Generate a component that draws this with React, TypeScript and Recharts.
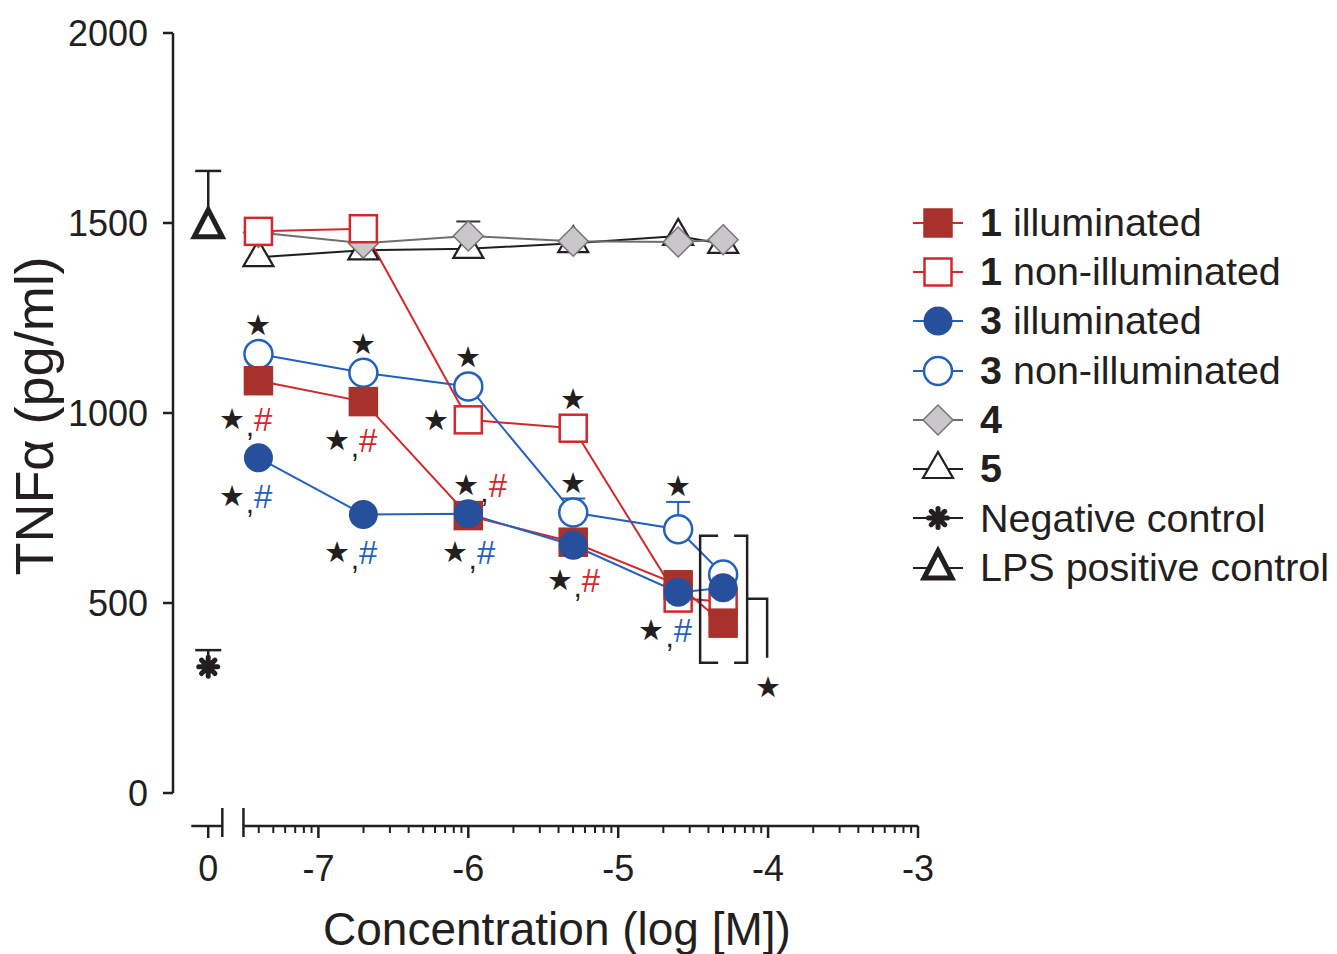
import React from 'react';
import { ComposedChart, Line, Scatter, XAxis, YAxis, ErrorBar, ReferenceLine, Legend } from 'recharts';

// log10 of the molar concentrations
const concLog = [-7.4, -6.7, -6, -5.3, -4.6, -4.3];

const cpd1Light = [1085, 1030, 730, 660, 548, 447];
const cpd1Dark = [1478, 1485, 982, 960, 513, 503];
const cpd3Light = [882, 733, 735, 652, 528, 540];
const cpd3Dark = [1155, 1106, 1070, 738, 694, 575];
const cpd3DarkSd = [0, 0, 0, 37, 72, 0];
const cpd4 = [1475, 1447, 1466, 1452, 1450, 1456];
const cpd4Sd = [0, 0, 38, 0, 0, 0];
const cpd5 = [1410, 1428, 1432, 1447, 1466, 1445];

// controls sit at concentration 0 (own axis segment)
const ctrlNames = ['Negative control', 'LPS positive control'];
const ctrlMeans = [332, 1490];
const ctrlSd = [44, 147];

const yTicks = [0, 500, 1000, 1500, 2000];
const majorTicks = [-7, -6, -5, -4, -3];

// significance marks: [series, concentration index, placement]
const starMarks: [string, number, string][] = [
  ['cpd3Dark', 0, 'above'],
  ['cpd3Dark', 1, 'above'],
  ['cpd3Dark', 2, 'above'],
  ['cpd3Dark', 3, 'above'],
  ['cpd3Dark', 4, 'above'],
  ['cpd1Dark', 2, 'left'],
  ['cpd1Dark', 3, 'above'],
];
const hashMarks: [string, number, string][] = [
  ['cpd1Light', 0, 'below'],
  ['cpd1Light', 1, 'below'],
  ['cpd1Light', 2, 'aboveRight'],
  ['cpd1Light', 3, 'belowRight'],
  ['cpd3Light', 0, 'below'],
  ['cpd3Light', 1, 'below'],
  ['cpd3Light', 2, 'belowRight'],
  ['cpd3Light', 4, 'below'],
];

const FONT = "'Liberation Sans', Arial, Helvetica, sans-serif";
const INK = '#231f20';
const RED = '#d2282c';
const RED_FILL = '#a8322b';
const BLUE = '#2361bd';
const BLUE_FILL = '#264f9c';
const GREY_LINE = '#6e6e6e';
const GREY_FILL = '#c9c7c9';

// axis layout (log units)
const X_MIN = -7.97;
const X_MAX = -3;
const CONTROL_POS = -7.735;
const CTRL_SEG = [-7.848, -7.641];
const MAIN_START = -7.5;
const Y_MIN = -86.8;
const Y_MAX = 2000;

const minorTicks: number[] = [];
for (let d = -8; d <= -4; d++) {
  for (let m = 2; m <= 9; m++) {
    const v = d + Math.log10(m);
    if (v > MAIN_START && v < X_MAX) minorTicks.push(v);
  }
}
const xTicks = [CONTROL_POS, CTRL_SEG[1], MAIN_START, ...majorTicks, ...minorTicks].sort((a, b) => a - b);

const near = (a: number, b: number) => Math.abs(a - b) < 1e-6;

type MarkerKind =
  | 'squareFilled'
  | 'squareOpen'
  | 'circleFilled'
  | 'circleOpen'
  | 'diamond'
  | 'triangle'
  | 'triangleBold'
  | 'asterisk';

function Marker({ kind, cx, cy }: { kind: MarkerKind; cx: number; cy: number }) {
  switch (kind) {
    case 'squareFilled':
      return <rect x={cx - 14} y={cy - 14} width={28} height={28} fill={RED_FILL} stroke={RED_FILL} strokeWidth={1.5} />;
    case 'squareOpen':
      return <rect x={cx - 13.5} y={cy - 13.5} width={27} height={27} fill="#fff" stroke={RED} strokeWidth={2.5} />;
    case 'circleFilled':
      return <circle cx={cx} cy={cy} r={14.5} fill={BLUE_FILL} />;
    case 'circleOpen':
      return <circle cx={cx} cy={cy} r={14} fill="#fff" stroke={BLUE} strokeWidth={2.5} />;
    case 'diamond':
      return (
        <path
          d={`M${cx},${cy - 15}L${cx + 15},${cy}L${cx},${cy + 15}L${cx - 15},${cy}Z`}
          fill={GREY_FILL}
          stroke="#777"
          strokeWidth={1.5}
        />
      );
    case 'triangle':
      return (
        <path
          d={`M${cx},${cy - 17}L${cx + 15},${cy + 9}L${cx - 15},${cy + 9}Z`}
          fill="#fff"
          stroke={INK}
          strokeWidth={2.2}
        />
      );
    case 'triangleBold':
      return (
        <path
          d={`M${cx},${cy - 17}L${cx + 14},${cy + 10}L${cx - 14},${cy + 10}Z`}
          fill="#fff"
          stroke={INK}
          strokeWidth={5}
        />
      );
    case 'asterisk':
    default:
      return (
        <g>
          {[0, 45, 90, 135].map((a) => {
            const dx = 9.5 * Math.cos((a * Math.PI) / 180);
            const dy = 9.5 * Math.sin((a * Math.PI) / 180);
            return (
              <line key={a} x1={cx - dx} y1={cy - dy} x2={cx + dx} y2={cy + dy} stroke={INK} strokeWidth={5} strokeLinecap="round" />
            );
          })}
          <circle cx={cx} cy={cy} r={6.5} fill={INK} />
        </g>
      );
  }
}

interface SeriesDef {
  id: string;
  values: number[];
  sd?: number[];
  stroke: string;
  barStroke?: string;
  marker: MarkerKind;
}

// drawing order, bottom to top
const seriesDefs: SeriesDef[] = [
  { id: 'cpd5', values: cpd5, stroke: INK, marker: 'triangle' },
  { id: 'cpd4', values: cpd4, sd: cpd4Sd, stroke: GREY_LINE, barStroke: '#333', marker: 'diamond' },
  { id: 'cpd1Dark', values: cpd1Dark, stroke: RED, marker: 'squareOpen' },
  { id: 'cpd3Dark', values: cpd3Dark, sd: cpd3DarkSd, stroke: BLUE, barStroke: BLUE, marker: 'circleOpen' },
  { id: 'cpd1Light', values: cpd1Light, stroke: RED, marker: 'squareFilled' },
  { id: 'cpd3Light', values: cpd3Light, stroke: BLUE, marker: 'circleFilled' },
];

const legendItems: { bold: string; text: string; stroke: string; marker: MarkerKind }[] = [
  { bold: '1', text: ' illuminated', stroke: RED, marker: 'squareFilled' },
  { bold: '1', text: ' non-illuminated', stroke: RED, marker: 'squareOpen' },
  { bold: '3', text: ' illuminated', stroke: BLUE, marker: 'circleFilled' },
  { bold: '3', text: ' non-illuminated', stroke: BLUE, marker: 'circleOpen' },
  { bold: '4', text: '', stroke: GREY_LINE, marker: 'diamond' },
  { bold: '5', text: '', stroke: INK, marker: 'triangle' },
  { bold: '', text: ctrlNames[0], stroke: INK, marker: 'asterisk' },
  { bold: '', text: ctrlNames[1], stroke: INK, marker: 'triangleBold' },
];

const toRows = (values: number[], sd?: number[]) =>
  concLog.map((x, i) => ({ x, y: values[i], err: sd && sd[i] ? [0, sd[i]] : undefined }));

const ctrlRows = ctrlMeans.map((m, i) => [{ x: CONTROL_POS, y: m, err: [0, ctrlSd[i]] }]);

const seriesById: Record<string, SeriesDef> = {};
seriesDefs.forEach((s) => (seriesById[s.id] = s));

const annoRows = [
  ...starMarks.map(([id, i, place]) => {
    const s = seriesById[id];
    const bar = s.sd ? s.sd[i] : 0;
    return { x: concLog[i], y: s.values[i] + bar, kind: 'star', place, bar: bar > 0, color: INK };
  }),
  ...hashMarks.map(([id, i, place]) => ({
    x: concLog[i],
    y: seriesById[id].values[i],
    kind: 'hash',
    place,
    bar: false,
    color: id === 'cpd1Light' ? RED : BLUE,
  })),
  {
    x: concLog[5],
    y: (cpd1Light[5] + cpd1Dark[5] + cpd3Light[5] + cpd3Dark[5]) / 4,
    kind: 'bracket',
    place: '',
    bar: false,
    color: INK,
  },
];

const STAR = 29;

function AnnoShape(props: any) {
  const { cx, cy, payload } = props;
  if (cx == null || cy == null) return <g />;
  if (payload.kind === 'star') {
    const px = payload.place === 'left' ? cx - 32 : cx;
    const py = payload.place === 'left' ? cy : cy - (payload.bar ? 16 : 29);
    return (
      <text x={px} y={py} textAnchor="middle" dominantBaseline="central" fontSize={STAR} fill={INK} fontFamily={FONT}>
        ★
      </text>
    );
  }
  if (payload.kind === 'hash') {
    let tx = cx + 14;
    let ty = cy + 38;
    let anchor = 'end';
    if (payload.place === 'belowRight') tx = cx + 27;
    if (payload.place === 'aboveRight') {
      tx = cx - 15;
      ty = cy - 31;
      anchor = 'start';
    }
    return (
      <text x={tx} y={ty} textAnchor={anchor} dominantBaseline="central" fontFamily={FONT} fill={INK}>
        <tspan fontSize={STAR}>★</tspan>
        <tspan fontSize={30} dy={6} dx={1}>,</tspan>
        <tspan fontSize={33} dy={-6} fill={payload.color}>#</tspan>
      </text>
    );
  }
  // bracket joining the highest-concentration points
  const s = { stroke: INK, strokeWidth: 2.5, fill: 'none' };
  return (
    <g>
      <path d={`M${cx - 5},${cy - 61}H${cx - 23}V${cy + 66}H${cx - 5}`} {...s} />
      <path d={`M${cx + 11},${cy - 61}H${cx + 24}V${cy + 66}H${cx + 11}`} {...s} />
      <path d={`M${cx + 24},${cy + 2}H${cx + 44}V${cy + 61}`} {...s} />
      <text x={cx + 45} y={cy + 90} textAnchor="middle" dominantBaseline="central" fontSize={STAR} fill={INK} fontFamily={FONT}>
        ★
      </text>
    </g>
  );
}

function XTick(props: any) {
  const { x, y, payload } = props;
  const v = payload.value as number;
  if (near(v, CTRL_SEG[1]) || near(v, MAIN_START)) {
    return <line x1={x} x2={x} y1={y - 18} y2={y + 11} stroke={INK} strokeWidth={2.5} />;
  }
  const isCtrl = near(v, CONTROL_POS);
  const isMajor = isCtrl || majorTicks.some((m) => near(m, v));
  if (!isMajor) return <line x1={x} x2={x} y1={y} y2={y + 7} stroke={INK} strokeWidth={2} />;
  return (
    <g>
      <line x1={x} x2={x} y1={y} y2={y + 12} stroke={INK} strokeWidth={2.5} />
      <text x={x} y={y + 55} textAnchor="middle" fontSize={36} fontFamily={FONT} fill={INK}>
        {isCtrl ? '0' : String(v)}
      </text>
    </g>
  );
}

const LegendBox = () => (
  <div style={{ fontFamily: FONT, fontSize: 39.5, color: INK, lineHeight: 1 }}>
    {legendItems.map((it, i) => (
      <div key={i} style={{ display: 'flex', alignItems: 'center', height: 49.3, whiteSpace: 'nowrap' }}>
        <svg width={70} height={40} style={{ overflow: 'visible' }}>
          <line x1={3} x2={53} y1={20} y2={20} stroke={it.stroke} strokeWidth={2} />
          <Marker kind={it.marker} cx={28} cy={20} />
        </svg>
        <span>
          {it.bold && <b>{it.bold}</b>}
          {it.text}
        </span>
      </div>
    ))}
  </div>
);

const noShape = () => <g />;

export default function App() {
  return (
    <div style={{ position: 'absolute', left: 0, top: 0, background: '#fff' }}>
      {/* one-sided (upper) error bars, as in the original figure */}
      <style>{'.recharts-errorBar line:last-child{display:none}'}</style>
      <ComposedChart width={1337} height={954} margin={{ top: 33, right: 419, bottom: 68, left: 73 }}>
        <XAxis
          type="number"
          dataKey="x"
          domain={[X_MIN, X_MAX]}
          allowDataOverflow
          ticks={xTicks}
          interval={0}
          axisLine={false}
          tickLine={false}
          tickSize={0}
          tickMargin={0}
          height={60}
          tick={XTick}
          label={{
            content: () => (
              <text x={557} y={945} textAnchor="middle" fontSize={46} fontFamily={FONT} fill={INK}>
                Concentration (log [M])
              </text>
            ),
          }}
        />
        <YAxis
          type="number"
          domain={[Y_MIN, Y_MAX]}
          allowDataOverflow
          ticks={yTicks}
          interval={0}
          axisLine={false}
          tickLine={{ stroke: INK, strokeWidth: 2.5 }}
          tickSize={10}
          tickMargin={15}
          width={100}
          tick={{ fontSize: 36, fill: INK, fontFamily: FONT }}
          label={{
            content: () => (
              <text
                x={53}
                y={416}
                transform="rotate(-90, 53, 416)"
                textAnchor="middle"
                fontSize={54}
                fontFamily={FONT}
                fill={INK}
              >
                TNFα (pg/ml)
              </text>
            ),
          }}
        />
        <ReferenceLine segment={[{ x: X_MIN, y: 0 }, { x: X_MIN, y: Y_MAX }]} stroke={INK} strokeWidth={2.5} ifOverflow="visible" />
        <ReferenceLine segment={[{ x: CTRL_SEG[0], y: Y_MIN }, { x: CTRL_SEG[1], y: Y_MIN }]} stroke={INK} strokeWidth={2.5} ifOverflow="visible" />
        <ReferenceLine segment={[{ x: MAIN_START, y: Y_MIN }, { x: X_MAX, y: Y_MIN }]} stroke={INK} strokeWidth={2.5} ifOverflow="visible" />

        {/* error bars first so the markers cover their stems */}
        {ctrlRows.map((rows, i) => (
          <Scatter key={`ctrl-err-${i}`} data={rows} dataKey="y" isAnimationActive={false} shape={noShape}>
            <ErrorBar dataKey="err" direction="y" width={13} stroke={INK} strokeWidth={2.5} isAnimationActive={false} />
          </Scatter>
        ))}
        {seriesDefs
          .filter((s) => s.sd)
          .map((s) => (
            <Scatter key={`${s.id}-err`} data={toRows(s.values, s.sd)} dataKey="y" isAnimationActive={false} shape={noShape}>
              <ErrorBar dataKey="err" direction="y" width={12} stroke={s.barStroke} strokeWidth={2} isAnimationActive={false} />
            </Scatter>
          ))}

        <Scatter
          data={ctrlRows[0]}
          dataKey="y"
          isAnimationActive={false}
          shape={(p: any) => <Marker kind="asterisk" cx={p.cx} cy={p.cy} />}
        />
        <Scatter
          data={ctrlRows[1]}
          dataKey="y"
          isAnimationActive={false}
          shape={(p: any) => <Marker kind="triangleBold" cx={p.cx} cy={p.cy} />}
        />

        {seriesDefs.map((s) => (
          <Line
            key={s.id}
            data={toRows(s.values)}
            dataKey="y"
            type="linear"
            stroke={s.stroke}
            strokeWidth={2}
            isAnimationActive={false}
            activeDot={false}
            dot={(p: any) => (
              <g key={`${s.id}-${p.index}`}>
                <Marker kind={s.marker} cx={p.cx} cy={p.cy} />
              </g>
            )}
          />
        ))}

        <Scatter data={annoRows} dataKey="y" isAnimationActive={false} shape={AnnoShape} />

        <Legend
          layout="vertical"
          align="center"
          verticalAlign="middle"
          wrapperStyle={{ left: 910, top: 198, width: 427 }}
          content={() => <LegendBox />}
        />
      </ComposedChart>
    </div>
  );
}
